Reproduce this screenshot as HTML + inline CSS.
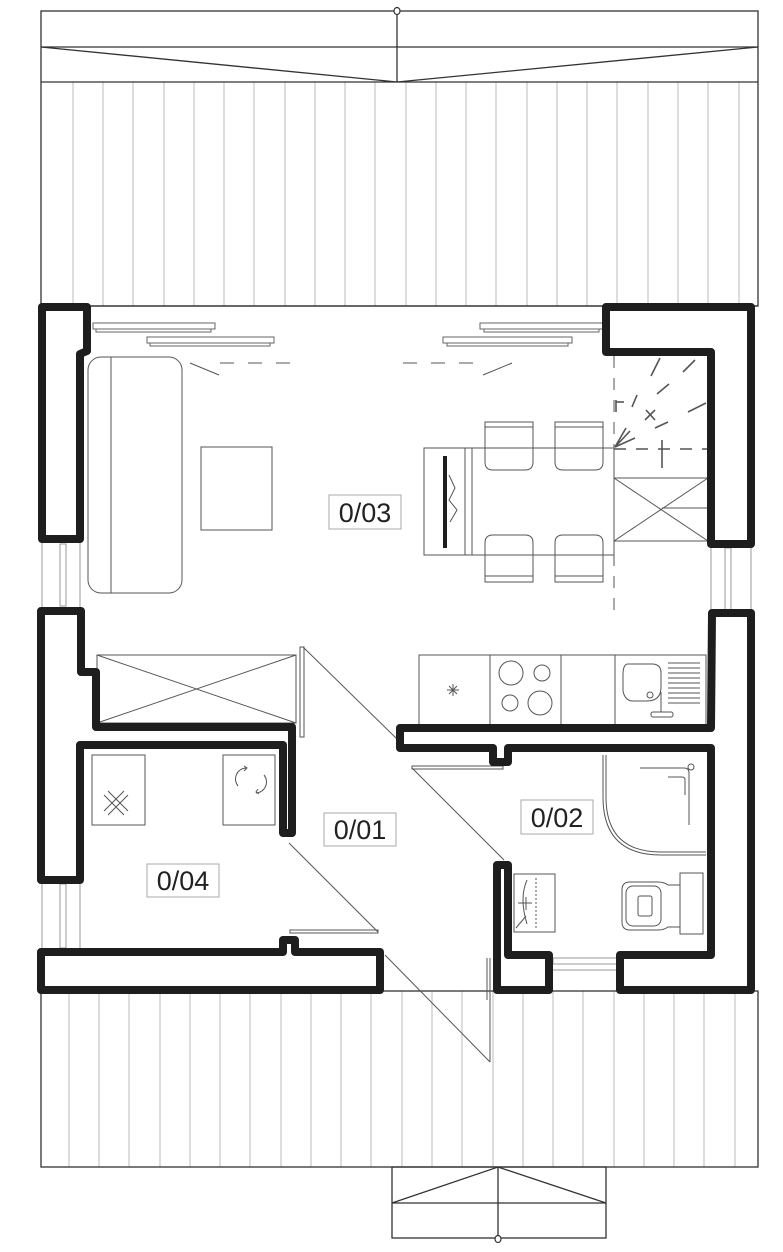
<!DOCTYPE html>
<html><head><meta charset="utf-8"><style>
html,body{margin:0;padding:0;background:#fff;}
svg{display:block;}
text{font-family:"Liberation Sans",sans-serif;font-size:27px;fill:#222;}
</style></head><body>
<svg width="783" height="1252" viewBox="0 0 783 1252" xmlns="http://www.w3.org/2000/svg">
<g stroke="#bbb" stroke-width="1">
<line x1="73" y1="82" x2="73" y2="306"/><line x1="103" y1="82" x2="103" y2="306"/><line x1="133" y1="82" x2="133" y2="306"/><line x1="164" y1="82" x2="164" y2="306"/><line x1="194" y1="82" x2="194" y2="306"/><line x1="224" y1="82" x2="224" y2="306"/><line x1="254" y1="82" x2="254" y2="306"/><line x1="285" y1="82" x2="285" y2="306"/><line x1="315" y1="82" x2="315" y2="306"/><line x1="345" y1="82" x2="345" y2="306"/><line x1="375" y1="82" x2="375" y2="306"/><line x1="406" y1="82" x2="406" y2="306"/><line x1="436" y1="82" x2="436" y2="306"/><line x1="466" y1="82" x2="466" y2="306"/><line x1="496" y1="82" x2="496" y2="306"/><line x1="527" y1="82" x2="527" y2="306"/><line x1="557" y1="82" x2="557" y2="306"/><line x1="587" y1="82" x2="587" y2="306"/><line x1="617" y1="82" x2="617" y2="306"/><line x1="648" y1="82" x2="648" y2="306"/><line x1="678" y1="82" x2="678" y2="306"/><line x1="708" y1="82" x2="708" y2="306"/><line x1="739" y1="82" x2="739" y2="306"/>
</g>
<g stroke="#bbb" stroke-width="1">
<line x1="69" y1="991" x2="69" y2="1167"/><line x1="99" y1="991" x2="99" y2="1167"/><line x1="129" y1="991" x2="129" y2="1167"/><line x1="160" y1="991" x2="160" y2="1167"/><line x1="190" y1="991" x2="190" y2="1167"/><line x1="220" y1="991" x2="220" y2="1167"/><line x1="250" y1="991" x2="250" y2="1167"/><line x1="281" y1="991" x2="281" y2="1167"/><line x1="311" y1="991" x2="311" y2="1167"/><line x1="341" y1="991" x2="341" y2="1167"/><line x1="371" y1="991" x2="371" y2="1167"/><line x1="402" y1="991" x2="402" y2="1167"/><line x1="432" y1="991" x2="432" y2="1167"/><line x1="462" y1="991" x2="462" y2="1167"/><line x1="493" y1="991" x2="493" y2="1167"/><line x1="523" y1="991" x2="523" y2="1167"/><line x1="553" y1="991" x2="553" y2="1167"/><line x1="583" y1="991" x2="583" y2="1167"/><line x1="614" y1="991" x2="614" y2="1167"/><line x1="644" y1="991" x2="644" y2="1167"/><line x1="674" y1="991" x2="674" y2="1167"/><line x1="704" y1="991" x2="704" y2="1167"/><line x1="735" y1="991" x2="735" y2="1167"/>
</g>
<g fill="none" stroke="#333" stroke-width="1.3">
<rect x="41" y="11" width="717" height="295"/>
<line x1="41" y1="47" x2="758" y2="47"/>
<line x1="41" y1="82" x2="758" y2="82"/>
<polyline points="41,47 397,82 758,47"/>
<line x1="397" y1="11" x2="397" y2="82"/>
<rect x="41" y="991" width="717" height="176"/>
<rect x="392" y="1167" width="214" height="71"/>
<line x1="392" y1="1203" x2="606" y2="1203"/>
<polyline points="392,1203 498,1167 606,1203"/>
<line x1="498" y1="1167" x2="498" y2="1238"/>
</g>
<ellipse cx="397" cy="11" rx="3" ry="3.5" fill="#fff" stroke="#333" stroke-width="1.2"/>
<ellipse cx="498" cy="1239" rx="3" ry="3.5" fill="#fff" stroke="#333" stroke-width="1.2"/>
<rect x="46" y="310" width="705" height="678" fill="#fff"/>
<g fill="none" stroke="#999" stroke-width="1">
<line x1="42" y1="540" x2="42" y2="611"/><line x1="80" y1="540" x2="80" y2="611"/>
<rect x="60" y="544" width="6" height="62"/>
<line x1="42" y1="880" x2="42" y2="952"/><line x1="80" y1="880" x2="80" y2="952"/>
<rect x="60" y="884" width="6" height="64"/>
<line x1="711" y1="544" x2="711" y2="613"/><line x1="751" y1="544" x2="751" y2="613"/>
<rect x="725" y="548" width="6" height="62"/>
<rect x="553" y="958" width="64" height="6"/>
<line x1="550" y1="970" x2="620" y2="970"/>
</g>
<line x1="41" y1="306" x2="758" y2="306" stroke="#333" stroke-width="1.2"/>
<g fill="#fff" stroke="#666" stroke-width="1">
<rect x="93" y="323" width="122" height="6"/><rect x="96" y="329" width="115" height="3"/>
<rect x="147" y="337" width="127" height="6"/><rect x="150" y="343" width="120" height="3"/>
<rect x="480" y="323" width="123" height="6"/><rect x="484" y="329" width="115" height="3"/>
<rect x="443" y="337" width="129" height="6"/><rect x="447" y="343" width="121" height="3"/>
</g>
<g stroke="#555" stroke-width="1" fill="none">
<line x1="220" y1="363" x2="300" y2="363" stroke-dasharray="14,14"/>
<line x1="403" y1="363" x2="485" y2="363" stroke-dasharray="14,14"/>
<line x1="190" y1="363" x2="219" y2="375"/>
<line x1="512" y1="363" x2="483" y2="375"/>
<rect x="88" y="357" width="94" height="236" rx="13"/>
<line x1="111" y1="357" x2="111" y2="593"/>
<rect x="201" y="447" width="71" height="83"/>
<rect x="424" y="448" width="190" height="107"/>
<line x1="465" y1="448" x2="465" y2="555"/><line x1="472" y1="448" x2="472" y2="555"/>
<polyline points="449,475 455,488 449,500 457,510 450,522"/>
<path d="M485,422 h48 v40 q0,8 -8,8 h-32 q-8,0 -8,-8z M485,427 h48"/>
<path d="M555,422 h48 v40 q0,8 -8,8 h-32 q-8,0 -8,-8z M555,427 h48"/>
<path d="M485,582 h48 v-39 q0,-8 -8,-8 h-32 q-8,0 -8,8z M485,576 h48"/>
<path d="M555,582 h48 v-39 q0,-8 -8,-8 h-32 q-8,0 -8,8z M555,576 h48"/>
<line x1="614" y1="356" x2="614" y2="610" stroke-dasharray="12,10"/>
<line x1="614" y1="478" x2="708" y2="478"/>
<line x1="614" y1="541" x2="708" y2="541"/>
<line x1="614" y1="478" x2="708" y2="541"/>
<line x1="614" y1="541" x2="708" y2="478"/>
<line x1="662" y1="508" x2="708" y2="508"/>
<line x1="614" y1="449" x2="708" y2="449" stroke-dasharray="12,10" stroke-width="1.6"/>
<g stroke-width="1.6">
<line x1="660" y1="358" x2="651" y2="376"/><line x1="695" y1="360" x2="683" y2="372"/>
<line x1="669" y1="384" x2="657" y2="394"/><line x1="706" y1="403" x2="688" y2="412"/>
<line x1="637" y1="395" x2="632" y2="407"/><line x1="646" y1="410" x2="655" y2="420"/>
<line x1="655" y1="410" x2="645" y2="420"/><line x1="655" y1="428" x2="668" y2="422"/>
<line x1="662" y1="440" x2="662" y2="468"/><line x1="616" y1="400" x2="616" y2="412"/>
<line x1="616" y1="402" x2="624" y2="402"/>
<line x1="615" y1="447" x2="626" y2="428"/><line x1="615" y1="447" x2="635" y2="438"/><line x1="615" y1="447" x2="630" y2="431"/>
</g>
<rect x="97" y="655" width="199" height="68"/>
<line x1="97" y1="655" x2="296" y2="723"/><line x1="97" y1="723" x2="296" y2="655"/>
<rect x="300" y="647" width="4" height="90"/>
<line x1="303" y1="647" x2="398" y2="740"/>
<rect x="92" y="755" width="53" height="70"/>
<rect x="223" y="755" width="52" height="70"/>
<path d="M104,795 l20,20 M108,791 l20,20 M104,811 l20,-20 M108,815 l20,-20"/>
<path d="M246,768 a11,11 0 0 0 -8,18 M256,793 a11,11 0 0 0 8,-18 M244,771 l3,-3 -3,-2 M258,789 l-2,3 3,2"/>
<line x1="289" y1="843" x2="378" y2="932"/>
<rect x="290" y="930" width="88" height="3"/>
<line x1="385" y1="955" x2="490" y2="1062"/>
<line x1="490" y1="958" x2="490" y2="1062"/>
<line x1="487" y1="958" x2="487" y2="1000"/>
<rect x="380" y="955" width="3" height="14"/>
<rect x="419" y="655" width="287" height="70"/>
<line x1="490" y1="655" x2="490" y2="725"/><line x1="561" y1="655" x2="561" y2="725"/><line x1="615" y1="655" x2="615" y2="725"/>
<path d="M447,690 h12 M453,684 v12 M449,686 l8,8 M449,694 l8,-8"/>
<circle cx="511" cy="673" r="12"/><circle cx="542" cy="673" r="8"/>
<circle cx="510" cy="703" r="8"/><circle cx="540" cy="703" r="12"/>
<path d="M628,664 h24 q9,0 9,9 v14 q0,14 -14,14 h-14 q-8,0 -10,-10 v-16 q0,-11 5,-11z"/>
<circle cx="650" cy="695" r="3"/>
<line x1="661" y1="692" x2="661" y2="712"/><rect x="651" y="712" width="22" height="5" rx="2"/>
<path d="M668,663 h32 M668,668 h32 M668,673 h32 M668,678 h32 M668,683 h32 M668,688 h32 M668,693 h32 M668,698 h32 M668,703 h32"/>
<rect x="412" y="766" width="91" height="3"/>
<line x1="412" y1="768" x2="504" y2="860"/>
<path d="M603,755 v42 q0,58 58,58 h45"/>
<path d="M606,755 v42 q0,55 55,55 h45"/>
<path d="M640,768 h44 q5,0 5,5 v52 M668,777 h14 q3,0 3,3 v15"/>
<circle cx="691" cy="767" r="3"/>
<rect x="680" y="873" width="23" height="61"/>
<path d="M680,885 h-12 q-4,-3 -10,-3 h-28 q-8,0 -8,8 v32 q0,8 8,8 h28 q6,0 10,-3 h12"/>
<rect x="626" y="886" width="35" height="40" rx="7"/>
<rect x="638" y="896" width="14" height="20" rx="2"/>
<rect x="514" y="874" width="41" height="58"/>
<line x1="536" y1="878" x2="536" y2="930" stroke-dasharray="2,2"/>
<path d="M527,880 q-8,18 0,44"/>
<line x1="518" y1="903" x2="532" y2="903"/><line x1="526" y1="897" x2="526" y2="910"/>
<line x1="516" y1="928" x2="526" y2="916"/>
</g>
<rect x="443" y="456" width="4" height="92" fill="#1e1e1e"/>
<g fill="none" stroke="#1e1e1e" stroke-width="8" stroke-linejoin="round">
<polygon points="42,307 87,307 87,351 80,354 80,539 42,539"/>
<polygon points="606,307 751,307 751,544 711,544 711,352 606,352"/>
<polygon points="41,611 81,611 81,672 96,672 96,727 292,727 292,833 283,833 283,745 80,745 80,880 41,880"/>
<polygon points="41,952 283,952 283,940 295,940 295,952 380,952 380,990 41,990"/>
<polygon points="712,613 751,613 751,990 620,990 620,955 711,955 711,748 508,748 508,762 493,762 493,748 400,748 400,728 711,728"/>
<polygon points="497,865 508,865 508,955 549,955 549,990 497,990"/>
</g>
<g fill="#fff" stroke="#aaa" stroke-width="1">
<rect x="329" y="495" width="72" height="34"/>
<rect x="324" y="813" width="72" height="33"/>
<rect x="147" y="864" width="72" height="33"/>
<rect x="521" y="800" width="72" height="34"/>
</g>
<text x="365" y="522" text-anchor="middle">0/03</text>
<text x="360" y="839" text-anchor="middle">0/01</text>
<text x="183" y="890" text-anchor="middle">0/04</text>
<text x="557" y="827" text-anchor="middle">0/02</text>
</svg>
</body></html>
